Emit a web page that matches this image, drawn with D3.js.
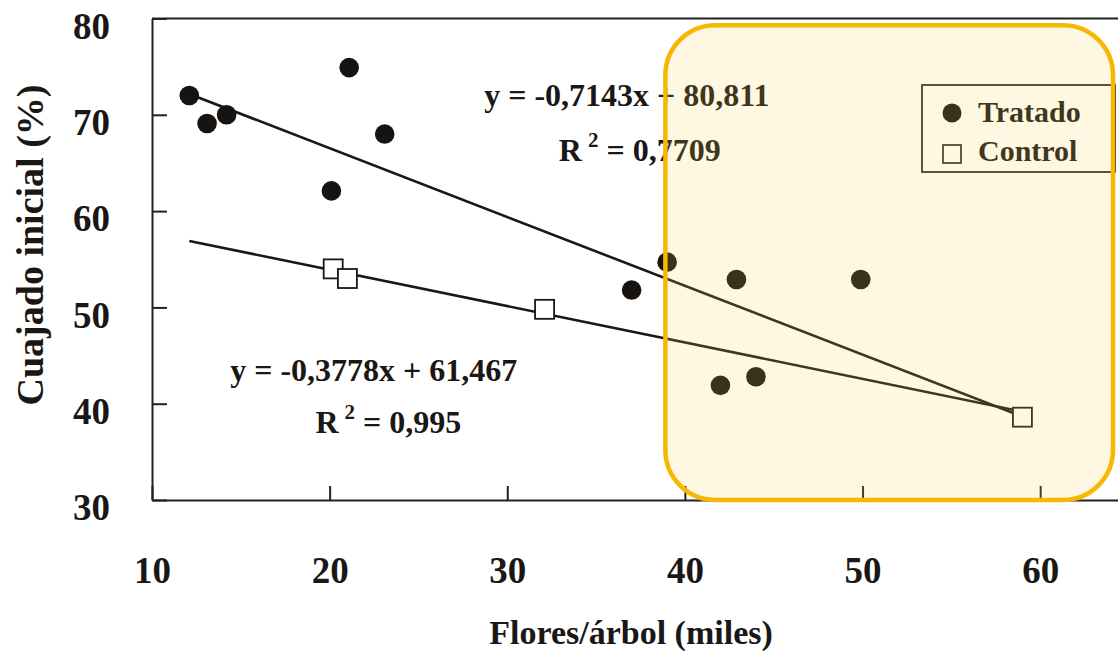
<!DOCTYPE html>
<html>
<head>
<meta charset="utf-8">
<script src="https://cdn.jsdelivr.net/npm/d3@7"></script>
<style>
  body { margin: 0; background: #fff; }
  svg text { font-family: "Liberation Serif", "Times New Roman", serif; font-weight: bold; fill: #1a1714; }
</style>
</head>
<body>
<svg id="chart" width="1118" height="655"></svg>
<script>
// Data
const tratadoX = [12.1, 13.1, 14.2, 20.1, 21.1, 23.1, 37.0, 39.0, 42.0, 42.9, 44.0, 49.9];
const tratadoY = [72.0, 69.1, 70.0, 62.1, 74.9, 68.0, 51.8, 54.7, 41.9, 52.9, 42.8, 52.9];
const controlX = [20.2, 21.0, 32.1, 59.0];
const controlY = [54.0, 53.0, 49.8, 38.6];

// regression lines: [slope, intercept], drawn between lineRange
const trendTratado = [-0.7143, 80.811];
const trendControl = [-0.3778, 61.467];
const lineRange = [12.1, 59.0];

const xTicks = [10, 20, 30, 40, 50, 60];
const yTicks = [30, 40, 50, 60, 70, 80];

// annotation anchors in data units
const eqLabels = [
  { x: 28.7, y: 70.9, text: "y = -0,7143x + 80,811" },
  { x: 14.4, y: 42.4, text: "y = -0,3778x + 61,467" }
];
const r2Labels = [
  { x: 32.9, y: 65.2, value: "0,7709" },
  { x: 19.2, y: 37.0, value: "0,995" }
];
const highlightX = [38.9, 64.1];
const highlightY = [30, 79.3];

const svg = d3.select("#chart");

const x = d3.scaleLinear().domain([10, 65]).range([152, 1129]);
const y = d3.scaleLinear().domain([30, 80]).range([500, 18.5]);

// Axes
const xAxis = svg.append("g")
    .attr("transform", `translate(0,${y(30)})`)
    .call(d3.axisBottom(x).tickValues(xTicks).tickSizeInner(-14).tickSizeOuter(0).tickPadding(57));

const yAxis = svg.append("g")
    .attr("transform", `translate(${x(10)},0)`)
    .call(d3.axisLeft(y).tickValues(yTicks).tickSizeInner(-15).tickSizeOuter(0).tickPadding(42));

[xAxis, yAxis].forEach(g => {
    g.select(".domain").attr("stroke", "#222").attr("stroke-width", 2);
    g.selectAll(".tick line").attr("stroke", "#222").attr("stroke-width", 2);
    g.selectAll(".tick text").attr("font-size", 37).attr("fill", "#1a1714")
        .attr("font-family", "Liberation Serif, serif").attr("font-weight", "bold");
});
yAxis.selectAll(".tick text").attr("y", 8);

// top frame line
svg.append("line")
    .attr("x1", x(10)).attr("x2", x(65))
    .attr("y1", y(80)).attr("y2", y(80))
    .attr("stroke", "#222").attr("stroke-width", 2);

// Axis titles
svg.append("text")
    .attr("x", 631).attr("y", 644)
    .attr("text-anchor", "middle")
    .attr("font-size", 34)
    .text("Flores/árbol (miles)");

svg.append("text")
    .attr("transform", "translate(43,245) rotate(-90)")
    .attr("text-anchor", "middle")
    .attr("font-size", 38)
    .text("Cuajado inicial (%)");

// Regression lines
const trendLine = t => lineRange.map(v => [x(v), y(t[0] * v + t[1])]);
[trendTratado, trendControl].forEach(t => {
    svg.append("path")
        .attr("d", d3.line()(trendLine(t)))
        .attr("fill", "none")
        .attr("stroke", "#1a1714")
        .attr("stroke-width", 2.6);
});

// Tratado points
svg.selectAll("circle.tratado")
    .data(tratadoX)
    .enter()
    .append("circle")
    .attr("class", "tratado")
    .attr("cx", d => x(d))
    .attr("cy", (d, i) => y(tratadoY[i]))
    .attr("r", 9.8)
    .attr("fill", "#161310");

// Control points
const sq = 19;
svg.selectAll("rect.control")
    .data(controlX)
    .enter()
    .append("rect")
    .attr("class", "control")
    .attr("x", d => x(d) - sq / 2)
    .attr("y", (d, i) => y(controlY[i]) - sq / 2)
    .attr("width", sq).attr("height", sq)
    .attr("fill", "#fff")
    .attr("stroke", "#1a1714")
    .attr("stroke-width", 1.8);

// Equations
eqLabels.forEach(l => {
    svg.append("text")
        .attr("x", x(l.x)).attr("y", y(l.y))
        .attr("font-size", 32)
        .text(l.text);
});
r2Labels.forEach(l => {
    const t = svg.append("text")
        .attr("x", x(l.x)).attr("y", y(l.y))
        .attr("font-size", 32);
    t.append("tspan").text("R");
    t.append("tspan").attr("dx", 6).attr("dy", -14).attr("font-size", 21).text("2");
    t.append("tspan").attr("dy", 14).text(" = " + l.value);
});

// Legend
const legend = svg.append("g");
legend.append("rect")
    .attr("x", 922).attr("y", 85)
    .attr("width", 193).attr("height", 87)
    .attr("fill", "#fff")
    .attr("stroke", "#2a2520").attr("stroke-width", 1.8);
legend.append("circle")
    .attr("cx", 952).attr("cy", 113).attr("r", 9.5)
    .attr("fill", "#161310");
legend.append("rect")
    .attr("x", 952 - 9).attr("y", 154 - 9)
    .attr("width", 18).attr("height", 18)
    .attr("fill", "#fff").attr("stroke", "#1a1714").attr("stroke-width", 1.6);
legend.append("text").attr("x", 978).attr("y", 122).attr("font-size", 30).text("Tratado");
legend.append("text").attr("x", 978).attr("y", 161).attr("font-size", 30).text("Control");

// Highlight overlay
svg.append("rect")
    .attr("x", x(highlightX[0])).attr("y", y(highlightY[1]))
    .attr("width", x(highlightX[1]) - x(highlightX[0]))
    .attr("height", y(highlightY[0]) - y(highlightY[1]))
    .attr("rx", 50).attr("ry", 50)
    .attr("fill", "rgba(247, 205, 80, 0.17)")
    .attr("stroke", "#f6b800")
    .attr("stroke-width", 4.5);
</script>
</body>
</html>
